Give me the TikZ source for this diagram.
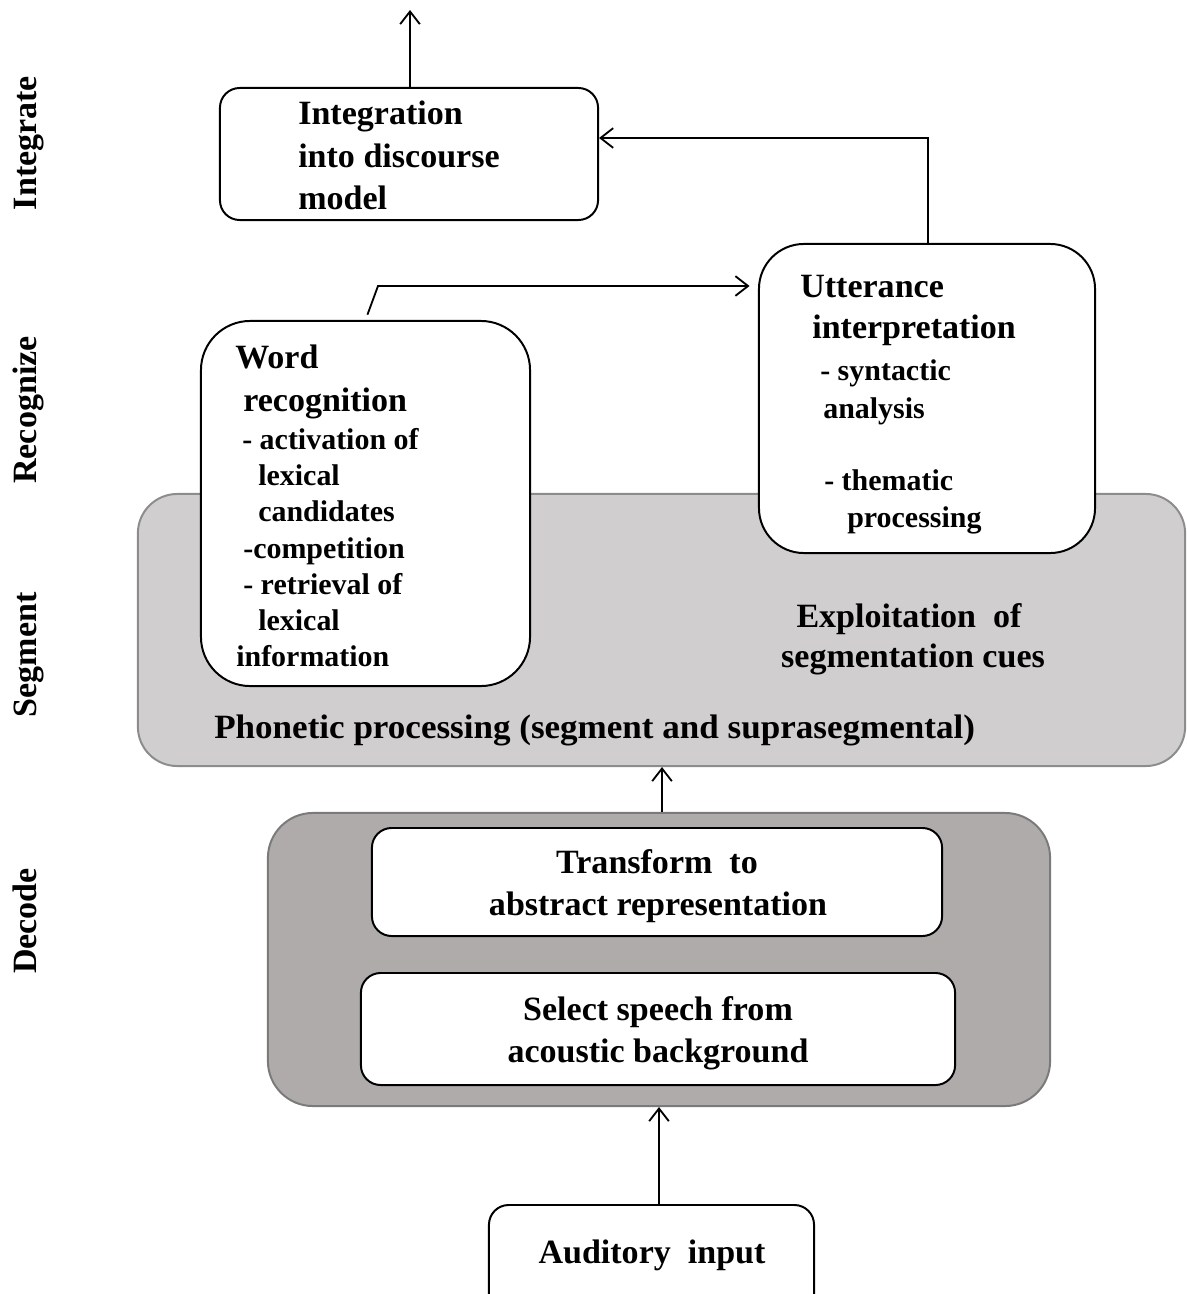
\documentclass[tikz,border=0pt]{standalone}
\usepackage{fontspec}
\setmainfont{Liberation Serif}
\usetikzlibrary{arrows.meta}
\definecolor{segfill}{HTML}{D0CECE}
\definecolor{segline}{HTML}{8C8C8C}
\definecolor{decfill}{HTML}{AFABAB}
\definecolor{decline}{HTML}{7A7A7A}
\begin{document}
\begin{tikzpicture}[x=0.025cm, y=-0.025cm,
  panel/.style={draw, line width=1.4pt, fill=white, inner sep=0pt, rounded corners=#1},
  big/.style={font=\fontsize{24.2}{29.9}\selectfont\bfseries, inner sep=0pt, anchor=base west},
  small/.style={font=\fontsize{21.3}{25.6}\selectfont\bfseries, inner sep=0pt, anchor=base west},
  mid/.style={font=\fontsize{24.2}{29.9}\selectfont\bfseries, inner sep=0pt, anchor=base},
  side/.style={font=\fontsize{24.2}{29.9}\selectfont\bfseries, inner sep=0pt, anchor=base, rotate=90},
  arr/.style={-{Straight Barb[length=9pt,width=14pt]}, line width=1.3pt},
]
\useasboundingbox (0,0) rectangle (1187,1294);
\clip (0,0) rectangle (1187,1294);

% stage labels on the left
\node[side] (lInt) at (36,143) {Integrate};
\node[side] (lRec) at (36,410) {Recognize};
\node[side] (lSeg) at (36,655) {Segment};
\node[side] (lDec) at (36,921) {Decode};

% segmentation layer
\node[panel=28pt, draw=segline, fill=segfill, minimum width=26.175cm, minimum height=6.8cm] (seg) at (661.5,630) {};
\node[mid] (e1) at (909,627) {Exploitation\ \ of};
\node[mid] (e2) at (913,667) {segmentation cues};
\node[big] (ph) at (214,738) {\scalebox{1.03}[1]{Phonetic processing (segment and suprasegmental)}};

% integration
\node[panel=14pt, minimum width=9.45cm, minimum height=3.3cm] (integ) at (409,154) {};
\node[big] (i1) at (298,125) {Integration};
\node[big] (i2) at (298,167) {into discourse};
\node[big] (i3) at (298,209) {model};

% utterance interpretation
\node[panel=32pt, minimum width=8.4cm, minimum height=7.725cm] (utt) at (927,398.5) {};
\node[big] (u1) at (800,297) {Utterance};
\node[big] (u2) at (812,338) {interpretation};
\node[small] (u3) at (820,380) {- syntactic};
\node[small] (u4) at (823,418) {analysis};
\node[small] (u5) at (824,490) {- thematic};
\node[small] (u6) at (847,527) {processing};

% word recognition
\node[panel=35pt, minimum width=8.225cm, minimum height=9.125cm] (word) at (365.5,503.5) {};
\node[big] (w1) at (235,368) {Word};
\node[big] (w2) at (243,411) {recognition};
\node[small] (w3) at (242,449) {- activation of};
\node[small] (w4) at (258,485) {lexical};
\node[small] (w5) at (258,521) {candidates};
\node[small] (w6) at (243,558) {-competition};
\node[small] (w7) at (243,594) {- retrieval of};
\node[small] (w8) at (258,630) {lexical};
\node[small] (w9) at (236,666) {information};

% decoding
\node[panel=32pt, draw=decline, fill=decfill, minimum width=19.55cm, minimum height=7.325cm] (dec) at (659,959.5) {};
\node[panel=14pt, minimum width=14.25cm, minimum height=2.7cm] (trans) at (657,882) {};
\node[mid] (t1) at (657,873) {Transform\ \ to};
\node[mid] (t2) at (658,915) {abstract representation};
\node[panel=14pt, minimum width=14.85cm, minimum height=2.8cm] (sel) at (658,1029) {};
\node[mid] (s1) at (658,1020) {Select speech from};
\node[mid] (s2) at (658,1062) {acoustic background};

% input
\node[panel=14pt, minimum width=8.125cm, minimum height=2.85cm] (aud) at (651.5,1262) {};
\node[mid] (a1) at (652,1263) {Auditory\ \ input};

% connectors
\coordinate (out) at (410,10);
\coordinate (j1) at (928,138);
\coordinate (k1) at (378,286);
\coordinate (up) at (662,790);
\draw[arr] (integ.north -| out) -- (out);
\draw[arr] (utt.north -| j1) -- (j1) -- (j1 -| integ.east);
\draw[arr, shorten <=4pt, shorten >=6pt] (word.north) -- (k1) -- (k1 -| utt.west);
\draw[arr] (dec.north -| up) -- (seg.south -| up);
\draw[arr] (aud.north -| dec.south) -- (dec.south);
\end{tikzpicture}
\end{document}
